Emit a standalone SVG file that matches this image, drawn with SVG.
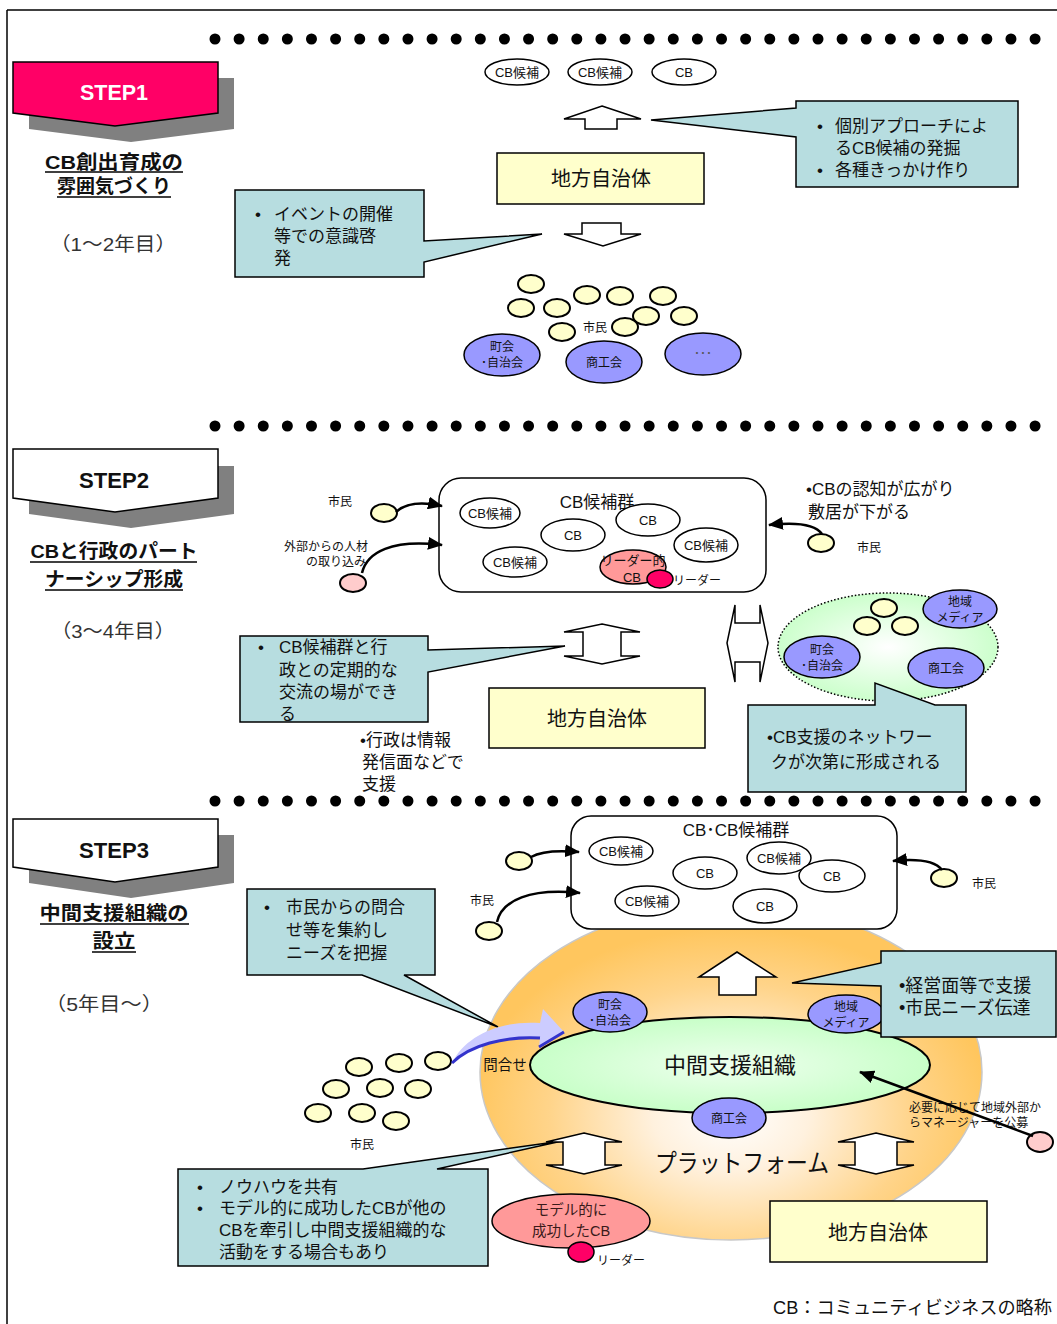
<svg xmlns="http://www.w3.org/2000/svg" width="1057" height="1324" viewBox="0 0 1057 1324">
<style>
text{font-family:'Liberation Sans','Noto Sans CJK JP',sans-serif;fill:#111}
.c{text-anchor:middle}
.s12{font-size:12px}.s13{font-size:13px}.s14{font-size:14.5px}.s17{font-size:17px}.s18{font-size:18px}.s20{font-size:20px}
.ttl{font-size:19px;font-weight:bold}
.yr{font-size:19px;fill:#333}
.step{font-size:22px;font-weight:bold}
.call{fill:#B7DDE0;stroke:#000;stroke-width:1.5}
.gov{fill:#FFFFCC;stroke:#000;stroke-width:1.5}
.cit{fill:#FFFFCC;stroke:#000;stroke-width:2}
.pur{fill:#9999FF;stroke:#000;stroke-width:1.5}
.wel{fill:#fff;stroke:#000;stroke-width:1.5}
.barr{fill:#fff;stroke:#000;stroke-width:1.5}
.con{fill:none;stroke:#000;stroke-width:2.5;marker-end:url(#ah)}
.dots{stroke:#000;stroke-width:11;stroke-linecap:round;stroke-dasharray:0 24.12}
.ul{stroke:#000;stroke-width:1.5}
.shd{fill:#808080}
</style>
<defs>
<marker id="ah" markerUnits="userSpaceOnUse" markerWidth="15" markerHeight="13" refX="14" refY="6.5" orient="auto" viewBox="0 0 15 13">
<path d="M0,0 L15,6.5 L0,13 Z" fill="#000"/>
</marker>
<radialGradient id="orange" cx="731" cy="1115" r="260" gradientUnits="userSpaceOnUse" gradientTransform="translate(731 1115) scale(1 0.72) translate(-731 -1115)">
<stop offset="0" stop-color="#FFFFFF"/>
<stop offset="0.3" stop-color="#FFF1DE"/>
<stop offset="0.7" stop-color="#FFD48A"/>
<stop offset="1" stop-color="#FFC65E"/>
</radialGradient>
<radialGradient id="green1" cx="0.5" cy="0.5" r="0.5">
<stop offset="0" stop-color="#FFFFFF"/>
<stop offset="1" stop-color="#CCFFCC"/>
</radialGradient>
<radialGradient id="green2" cx="0.5" cy="0.5" r="0.5">
<stop offset="0" stop-color="#EEFFEE"/>
<stop offset="1" stop-color="#C8FFC8"/>
</radialGradient>
</defs>
<rect x="0" y="0" width="1057" height="1324" fill="#fff"/>
<g id="frame">
<line x1="7" y1="10" x2="1057" y2="10" stroke="#000" stroke-width="1.5"/>
<line x1="7" y1="10" x2="7" y2="1324" stroke="#000" stroke-width="1.5"/>
<line class="dots" x1="215" y1="39" x2="1036" y2="39"/>
<line class="dots" x1="215" y1="426" x2="1036" y2="426"/>
<line class="dots" x1="215" y1="801" x2="1036" y2="801"/>
</g>

<g id="step1">
<polygon class="shd" points="29,78 234,78 234,129 131,142 29,129"/>
<polygon points="13,62 218,62 218,113 115,126 13,113" fill="#FF0066" stroke="#000" stroke-width="1.5"/>
<text class="step c" x="114" y="100" style="fill:#fff" textLength="68" lengthAdjust="spacingAndGlyphs">STEP1</text>
<text class="ttl c" x="114" y="169" textLength="138" lengthAdjust="spacingAndGlyphs">CB創出育成の</text>
<line class="ul" x1="45" y1="172" x2="183" y2="172"/>
<text class="ttl c" x="114" y="193" textLength="114" lengthAdjust="spacingAndGlyphs">雰囲気づくり</text>
<line class="ul" x1="57" y1="197" x2="171" y2="197"/>
<text class="yr c" x="113" y="251" textLength="126" lengthAdjust="spacingAndGlyphs">（1～2年目）</text>
</g>
<g id="step2">
<polygon class="shd" points="29,466 234,466 234,514 131,528 29,514"/>
<polygon points="13,449 218,449 218,498 115,512 13,498" fill="#fff" stroke="#000" stroke-width="1.5"/>
<text class="step c" x="114" y="488" textLength="70" lengthAdjust="spacingAndGlyphs">STEP2</text>
<text class="ttl c" x="114" y="558" textLength="167" lengthAdjust="spacingAndGlyphs">CBと行政のパート</text>
<line class="ul" x1="30" y1="562" x2="197" y2="562"/>
<text class="ttl c" x="114" y="586" textLength="138" lengthAdjust="spacingAndGlyphs">ナーシップ形成</text>
<line class="ul" x1="45" y1="590" x2="183" y2="590"/>
<text class="yr c" x="113" y="638" textLength="124" lengthAdjust="spacingAndGlyphs">（3～4年目）</text>
</g>
<g id="step3">
<polygon class="shd" points="29,835 234,835 234,883 131,898 29,883"/>
<polygon points="13,819 218,819 218,867 115,882 13,867" fill="#fff" stroke="#000" stroke-width="1.5"/>
<text class="step c" x="114" y="858" textLength="70" lengthAdjust="spacingAndGlyphs">STEP3</text>
<text class="ttl c" x="114" y="920" textLength="149" lengthAdjust="spacingAndGlyphs">中間支援組織の</text>
<line class="ul" x1="40" y1="924" x2="189" y2="924"/>
<text class="ttl c" x="114" y="948" textLength="43" lengthAdjust="spacingAndGlyphs">設立</text>
<line class="ul" x1="92" y1="952" x2="136" y2="952"/>
<text class="yr c" x="104" y="1011" textLength="118" lengthAdjust="spacingAndGlyphs">（5年目～）</text>
</g>

<g id="s1-cb">
<ellipse class="wel" cx="517" cy="72" rx="32" ry="13"/><text class="s13 c" x="517" y="76.5">CB候補</text>
<ellipse class="wel" cx="600" cy="72" rx="32" ry="13"/><text class="s13 c" x="600" y="76.5">CB候補</text>
<ellipse class="wel" cx="684" cy="72" rx="32" ry="13"/><text class="s13 c" x="684" y="76.5">CB</text>
</g>
<g id="s1-callout-right">
<path class="call" d="M796,101 L1018,101 L1018,187 L796,187 L796,137 L651,120 L796,108 Z"/>
<text class="s17" x="817" y="132">•</text><text class="s17" x="835" y="132">個別アプローチによ</text>
<text class="s17" x="835" y="154">るCB候補の発掘</text>
<text class="s17" x="817" y="176">•</text><text class="s17" x="835" y="176">各種きっかけ作り</text>
</g>
<g id="s1-gov">
<rect class="gov" x="497" y="153" width="207" height="51"/>
<text class="s20 c" x="601" y="186">地方自治体</text>
</g>
<g id="s1-callout-left">
<path class="call" d="M235,190 L424,190 L424,241 L542,234 L424,262 L424,277 L235,277 Z"/>
<text class="s17" x="255" y="220">•</text><text class="s17" x="274" y="220">イベントの開催</text>
<text class="s17" x="274" y="242">等での意識啓</text>
<text class="s17" x="274" y="264">発</text>
</g>
<g id="s1-citizens">
<ellipse class="cit" cx="531" cy="284" rx="13" ry="9"/>
<ellipse class="cit" cx="521" cy="308" rx="13" ry="9"/>
<ellipse class="cit" cx="557" cy="308" rx="13" ry="9"/>
<ellipse class="cit" cx="587" cy="295" rx="13" ry="9"/>
<ellipse class="cit" cx="620" cy="296" rx="13" ry="9"/>
<ellipse class="cit" cx="663" cy="296" rx="13" ry="9"/>
<ellipse class="cit" cx="646" cy="316" rx="13" ry="9"/>
<ellipse class="cit" cx="684" cy="316" rx="13" ry="9"/>
<ellipse class="cit" cx="562" cy="332" rx="13" ry="9"/>
<ellipse class="cit" cx="625" cy="327" rx="13" ry="9"/>
<text class="s12 c" x="595" y="332">市民</text>
</g>
<g id="s1-groups">
<ellipse class="pur" cx="502" cy="355" rx="38" ry="21"/>
<text class="s12 c" x="502" y="351">町会</text><text class="s12 c" x="502" y="367">･自治会</text>
<ellipse class="pur" cx="604" cy="362" rx="38" ry="21"/>
<text class="s12 c" x="604" y="367">商工会</text>
<ellipse class="pur" cx="703" cy="354" rx="38" ry="21"/>
<text class="s12 c" x="703" y="358" style="fill:#555">･･･</text>
</g>

<g id="s2-cbgroup">
<rect class="wel" x="439" y="478" width="327" height="114" rx="22"/>
<text class="s17 c" x="597" y="508">CB候補群</text>
<ellipse class="wel" cx="490" cy="513" rx="30" ry="15"/><text class="s13 c" x="490" y="518">CB候補</text>
<ellipse class="wel" cx="573" cy="535" rx="32" ry="16"/><text class="s13 c" x="573" y="540">CB</text>
<ellipse class="wel" cx="648" cy="520" rx="32" ry="16"/><text class="s13 c" x="648" y="525">CB</text>
<ellipse class="wel" cx="706" cy="545" rx="32" ry="17"/><text class="s13 c" x="706" y="550">CB候補</text>
<ellipse class="wel" cx="515" cy="562" rx="32" ry="15"/><text class="s13 c" x="515" y="567">CB候補</text>
<ellipse cx="633" cy="567" rx="33" ry="17" fill="#FF9999" stroke="#000" stroke-width="1.5"/>
<text class="s13 c" x="633" y="565">リーダー的</text><text class="s13 c" x="632" y="582">CB</text>
<ellipse cx="660" cy="579" rx="13" ry="9" fill="#FF0066" stroke="#000" stroke-width="1.5"/>
<text class="s12" x="673" y="585">リーダー</text>
</g>
<g id="s2-citizen-left">
<text class="s12 c" x="340" y="506">市民</text>
<ellipse class="cit" cx="384" cy="513" rx="13" ry="9"/>
</g>
<g id="s2-outside">
<text class="s12 c" x="326" y="551">外部からの人材</text>
<text class="s12 c" x="336" y="566">の取り込み</text>
<ellipse cx="353" cy="583" rx="13" ry="9" fill="#FFCCCC" stroke="#000" stroke-width="2"/>
</g>
<g id="s2-note-right">
<text class="s17" x="806" y="495">•CBの認知が広がり</text>
<text class="s17" x="808" y="518">敷居が下がる</text>
<ellipse class="cit" cx="821" cy="543" rx="13" ry="9"/>
<text class="s12 c" x="869" y="552">市民</text>
</g>
<g id="s2-callout-left">
<path class="call" d="M240,636 L428,636 L428,650 L565,646 L428,672 L428,722 L240,722 Z"/>
<text class="s17" x="258" y="653">•</text><text class="s17" x="279" y="653">CB候補群と行</text>
<text class="s17" x="279" y="676">政との定期的な</text>
<text class="s17" x="279" y="698">交流の場ができ</text>
<text class="s17" x="279" y="720">る</text>
</g>
<g id="s2-gov">
<rect class="gov" x="489" y="688" width="216" height="60"/>
<text class="s20 c" x="597" y="726">地方自治体</text>
</g>
<g id="s2-note-gov">
<text class="s17" x="360" y="746">•行政は情報</text>
<text class="s17" x="362" y="768">発信面などで</text>
<text class="s17" x="362" y="790">支援</text>
</g>
<g id="s2-network">
<ellipse cx="888" cy="647" rx="110" ry="54" fill="url(#green1)" stroke="#000" stroke-width="1.5" stroke-dasharray="1.5 2"/>
<ellipse class="cit" cx="884" cy="608" rx="13" ry="9"/>
<ellipse class="cit" cx="867" cy="626" rx="13" ry="9"/>
<ellipse class="cit" cx="905" cy="626" rx="13" ry="9"/>
<ellipse class="pur" cx="960" cy="609" rx="37" ry="19"/>
<text class="s12 c" x="960" y="606">地域</text><text class="s12 c" x="960" y="622">メディア</text>
<ellipse class="pur" cx="822" cy="657" rx="38" ry="21"/>
<text class="s12 c" x="822" y="654">町会</text><text class="s12 c" x="822" y="670">･自治会</text>
<ellipse class="pur" cx="946" cy="668" rx="38" ry="20"/>
<text class="s12 c" x="946" y="673">商工会</text>
</g>
<g id="s2-callout-right">
<path class="call" d="M748,705 L875,705 L875,683 L935,705 L966,705 L966,792 L748,792 Z"/>
<text class="s17" x="767" y="743">•CB支援のネットワー</text>
<text class="s17" x="771" y="768">クが次第に形成される</text>
</g>

<g id="s3-platform">
<ellipse cx="731" cy="1072" rx="251" ry="168" fill="url(#orange)" stroke="#C8C8C8" stroke-width="1.5"/>
<text class="c" x="742" y="1172" style="font-size:25px" textLength="174" lengthAdjust="spacingAndGlyphs">プラットフォーム</text>
</g>
<g id="s3-cbgroup">
<rect class="wel" x="571" y="816" width="326" height="113" rx="20"/>
<text class="s17 c" x="736" y="836">CB･CB候補群</text>
<ellipse class="wel" cx="621" cy="851" rx="32" ry="14"/><text class="s13 c" x="621" y="856">CB候補</text>
<ellipse class="wel" cx="705" cy="873" rx="32" ry="16"/><text class="s13 c" x="705" y="878">CB</text>
<ellipse class="wel" cx="779" cy="858" rx="32" ry="16"/><text class="s13 c" x="779" y="863">CB候補</text>
<ellipse class="wel" cx="832" cy="876" rx="33" ry="16"/><text class="s13 c" x="832" y="881">CB</text>
<ellipse class="wel" cx="647" cy="901" rx="32" ry="15"/><text class="s13 c" x="647" y="906">CB候補</text>
<ellipse class="wel" cx="765" cy="906" rx="32" ry="17"/><text class="s13 c" x="765" y="911">CB</text>
</g>
<g id="s3-citizens-top">
<ellipse class="cit" cx="519" cy="861" rx="13" ry="9"/>
<ellipse class="cit" cx="489" cy="931" rx="13" ry="9"/>
<text class="s12 c" x="482" y="905">市民</text>
<ellipse class="cit" cx="944" cy="878" rx="13" ry="9"/>
<text class="s12 c" x="984" y="888">市民</text>
</g>
<g id="s3-support">
<ellipse cx="730" cy="1065" rx="200" ry="48" fill="url(#green2)" stroke="#000" stroke-width="2"/>
<text class="c" x="730" y="1073" style="font-size:22px">中間支援組織</text>
<ellipse class="pur" cx="610" cy="1012" rx="37" ry="20"/>
<text class="s12 c" x="610" y="1009">町会</text><text class="s12 c" x="610" y="1025">･自治会</text>
<ellipse class="pur" cx="846" cy="1014" rx="38" ry="19"/>
<text class="s12 c" x="846" y="1011">地域</text><text class="s12 c" x="846" y="1027">メディア</text>
<ellipse class="pur" cx="729" cy="1118" rx="37" ry="20"/>
<text class="s12 c" x="729" y="1123">商工会</text>
</g>
<g id="s3-callout-left">
<path class="call" d="M247,889 L435,889 L435,975 L404,975 L498,1027 L362,975 L247,975 Z"/>
<text class="s17" x="264" y="913">•</text><text class="s17" x="286" y="913">市民からの問合</text>
<text class="s17" x="286" y="936">せ等を集約し</text>
<text class="s17" x="286" y="959">ニーズを把握</text>
</g>
<g id="s3-callout-right">
<path class="call" d="M881,951 L1056,951 L1056,1037 L881,1037 L881,986 L792,983 L881,963 Z"/>
<text class="s18" x="899" y="992">•経営面等で支援</text>
<text class="s18" x="899" y="1014">•市民ニーズ伝達</text>
</g>
<g id="s3-citizens-left">
<ellipse class="cit" cx="359" cy="1067" rx="13" ry="9"/>
<ellipse class="cit" cx="399" cy="1063" rx="13" ry="9"/>
<ellipse class="cit" cx="438" cy="1061" rx="13" ry="9"/>
<ellipse class="cit" cx="336" cy="1089" rx="13" ry="9"/>
<ellipse class="cit" cx="380" cy="1088" rx="13" ry="9"/>
<ellipse class="cit" cx="418" cy="1089" rx="13" ry="9"/>
<ellipse class="cit" cx="318" cy="1113" rx="13" ry="9"/>
<ellipse class="cit" cx="362" cy="1113" rx="13" ry="9"/>
<ellipse class="cit" cx="396" cy="1121" rx="13" ry="9"/>
<text class="s12 c" x="362" y="1149">市民</text>
</g>
<g id="s3-inquiry">
<text class="c" x="505" y="1070" style="font-size:14.5px">問合せ</text>
</g>
<g id="s3-manager">
<text class="s12" x="909" y="1112">必要に応じて地域外部か</text>
<text class="s12" x="909" y="1127">らマネージャーを公募</text>
<ellipse cx="1040" cy="1142" rx="13" ry="10" fill="#FFCCCC" stroke="#000" stroke-width="2"/>
</g>
<g id="s3-callout-bottom">
<path class="call" d="M178,1169 L363,1169 L562,1141 L437,1169 L488,1169 L488,1266 L178,1266 Z"/>
<text class="s17" x="197" y="1193">•</text><text class="s17" x="219" y="1193">ノウハウを共有</text>
<text class="s17" x="197" y="1214">•</text><text class="s17" x="219" y="1214">モデル的に成功したCBが他の</text>
<text class="s17" x="219" y="1236">CBを牽引し中間支援組織的な</text>
<text class="s17" x="219" y="1258">活動をする場合もあり</text>
</g>
<g id="s3-model-cb">
<ellipse cx="571" cy="1221" rx="79" ry="27" fill="#FF9999" stroke="#000" stroke-width="1.5"/>
<text class="s14 c" x="571" y="1215" style="fill:#3a1a1a">モデル的に</text>
<text class="s14 c" x="571" y="1236" style="fill:#3a1a1a">成功したCB</text>
<ellipse cx="581" cy="1252" rx="13" ry="10" fill="#FF0066" stroke="#000" stroke-width="1.5"/>
<text class="s12" x="597" y="1265">リーダー</text>
</g>
<g id="s3-gov">
<rect class="gov" x="770" y="1201" width="217" height="61"/>
<text class="s20 c" x="878" y="1240">地方自治体</text>
</g>
<g id="footnote">
<text x="773" y="1314" style="font-size:18px" textLength="279" lengthAdjust="spacingAndGlyphs">CB：コミュニティビジネスの略称</text>
</g>

<g id="connectors">
<polygon class="barr" points="602,106 641,119 617,119 617,129 585,129 585,119 564,119"/>
<polygon class="barr" points="582,223 621,223 621,234 641,234 603,246 564,234 582,234"/>
<polygon class="barr" points="602,624 640,632 621,632 621,656 640,656 602,664 564,656 583,656 583,632 564,632"/>
<polygon class="barr" points="727,643 735,605 735,623 760,623 760,605 768,643 760,682 760,662 735,662 735,682"/>
<polygon class="barr" points="737,952 776,977 756,977 756,995 719,995 719,977 699,977"/>
<polygon class="barr" points="584,1133 622,1142 605,1142 605,1165 622,1165 584,1174 546,1165 563,1165 563,1142 546,1142"/>
<polygon class="barr" points="876,1133 914,1142 897,1142 897,1165 914,1165 876,1174 838,1165 855,1165 855,1142 838,1142"/>
<path class="con" d="M396,512 Q410,499 442,506"/>
<path class="con" d="M362,573 C367,552 392,539 442,545"/>
<path class="con" d="M822,534 Q812,520 769,525"/>
<path class="con" d="M531,857 Q545,849 579,852"/>
<path class="con" d="M497,922 C502,900 530,888 580,893"/>
<path class="con" d="M942,870 Q932,857 893,861"/>
<path class="con" d="M1033,1136 L860,1072"/>
<path d="M452,1063 C465,1036 500,1020 540,1023 L543,1009 L564,1032 L539,1047 L540,1038 C505,1036 470,1045 452,1063 Z" fill="#CCCCFF"/>
<path d="M452,1063 C470,1045 505,1036 540,1038 M539,1047 L564,1032" fill="none" stroke="#3333CC" stroke-width="3"/>
</g>
</svg>
